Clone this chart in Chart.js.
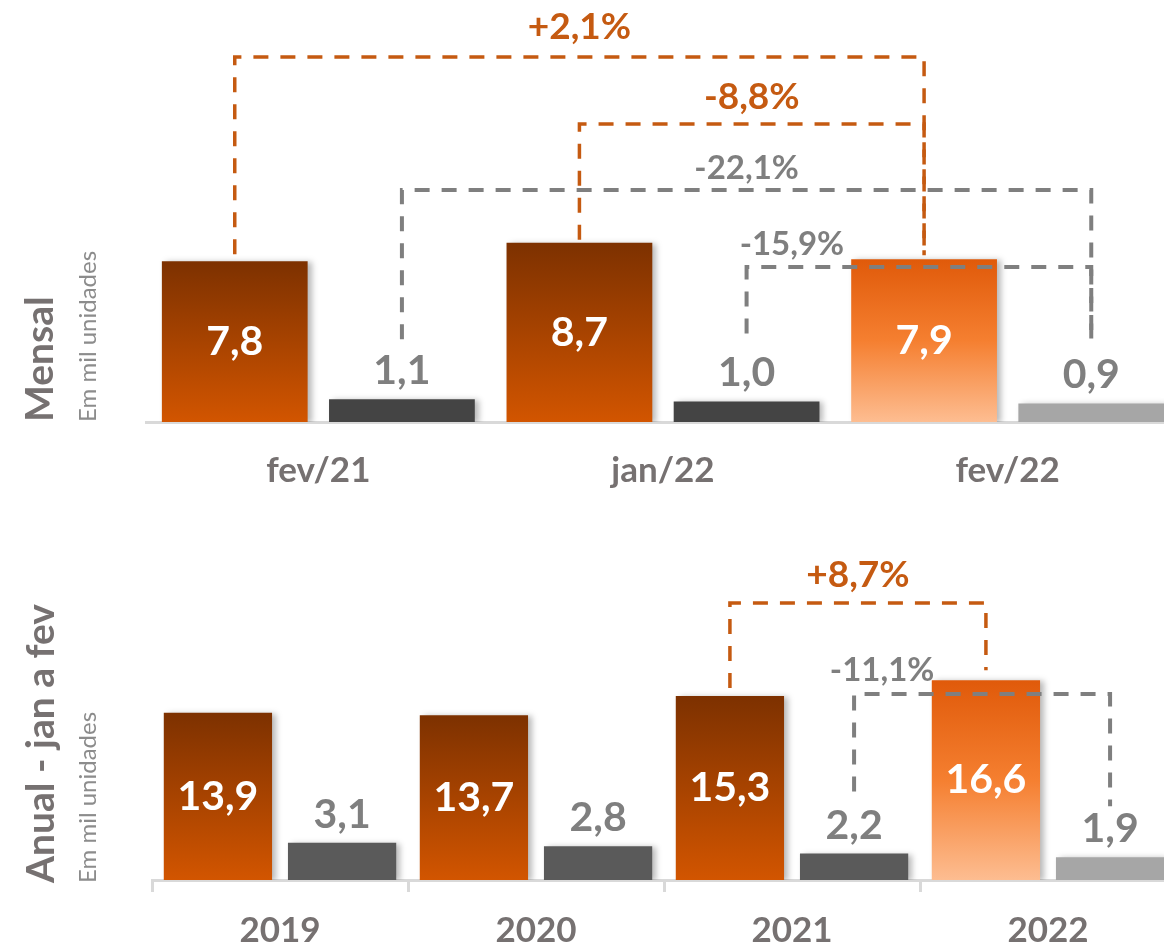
<!DOCTYPE html>
<html>
<head>
<meta charset="utf-8">
<script src="https://cdn.jsdelivr.net/npm/chart.js@4.4.1/dist/chart.umd.min.js"></script>
<style>
  html, body { margin: 0; padding: 0; background: #fff; }
  #wrap { position: relative; width: 1164px; height: 943px; overflow: hidden; font-family: Lato, "Open Sans", sans-serif; }
  canvas { position: absolute; left: 0; }
  #mensal { top: 0; }
  #anual { top: 510px; }
  .side { position: absolute; white-space: nowrap; transform: rotate(-90deg); transform-origin: 0 0; line-height: 1; color: #767171; }
  .title { font-weight: bold; font-size: 39px; }
  .unit { font-size: 24px; color: #8c8c8c; }
</style>
</head>
<body>
<div id="wrap">
  <canvas id="mensal" width="1180" height="500"></canvas>
  <canvas id="anual" width="1176" height="433"></canvas>
  <div class="side title" style="left:19px; top:422px">Mensal</div>
  <div class="side unit" style="left:75px; top:422px">Em mil unidades</div>
  <div class="side title" style="left:20px; top:883px">Anual - jan a fev</div>
  <div class="side unit" style="left:75px; top:883px">Em mil unidades</div>
</div>
<script>
// mensal
const mensalLabels = ['fev/21', 'jan/22', 'fev/22'];
const mensalSerie1 = [7.8, 8.7, 7.9];
const mensalSerie2 = [1.1, 1.0, 0.9];

// anual - jan a fev
const anualLabels = ['2019', '2020', '2021', '2022'];
const anualSerie1 = [13.9, 13.7, 15.3, 16.6];
const anualSerie2 = [3.1, 2.8, 2.2, 1.9];

// variation brackets: [dataset, index] -> [dataset, index], level in axis units
const mensalBrackets = [
  { text: '+2,1%', from: [0, 0], to: [0, 2], level: 17.72, kind: 'orange', gap: [7, 4], dx: 0, rise: 30 },
  { text: '-8,8%', from: [0, 1], to: [0, 2], level: 14.47, kind: 'orange', gap: [3, 4], dx: 0, rise: 27 },
  { text: '-22,1%', from: [1, 0], to: [1, 2], level: 11.26, kind: 'gray', gap: [60, 65], dx: 0, rise: 22 },
  { text: '-15,9%', from: [1, 1], to: [1, 2], level: 7.52, kind: 'gray', gap: [68, 65], dx: -127, rise: 23 }
];
const anualBrackets = [
  { text: '+8,7%', from: [0, 2], to: [0, 3], level: 23.03, kind: 'orange', gap: [8, 10], dx: 0, rise: 28 },
  { text: '-11,1%', from: [1, 2], to: [1, 3], level: 15.46, kind: 'gray', gap: [62, 51], dx: -100, rise: 24 }
];

const FONT = 'Lato, "Open Sans", sans-serif';
const ORANGE = '#c55a11';
const GRAY_TXT = '#7f7f7f';
const lineStyle = {
  orange: { color: ORANGE, width: 3.5, dash: [15, 12], font: 'bold 37px ' + FONT },
  gray: { color: GRAY_TXT, width: 4, dash: [15, 12], font: 'bold 33px ' + FONT }
};

const darkOrange = [[0, '#7d3100'], [1, '#d25500']];
const lightOrange = [[0, '#e05a0a'], [0.5, '#f57f30'], [1, '#fdbd91']];

function gradient(stops) {
  return (c) => {
    const chart = c.chart;
    if (!chart.chartArea || !c.parsed) return stops[stops.length - 1][1];
    const y = chart.scales.y;
    const top = y.getPixelForValue(c.parsed.y);
    const bottom = y.getPixelForValue(0);
    const g = chart.ctx.createLinearGradient(0, top, 0, bottom);
    stops.forEach(([o, col]) => g.addColorStop(o, col));
    return g;
  };
}

const fmt = v => v.toFixed(1).replace('.', ',');

const barShadow = {
  id: 'barShadow',
  beforeDatasetsDraw(chart) {
    const ctx = chart.ctx;
    ctx.save();
    ctx.shadowColor = 'rgba(0,0,0,0.28)';
    ctx.shadowBlur = 6;
    ctx.shadowOffsetX = 4;
    ctx.shadowOffsetY = 1;
  },
  afterDatasetsDraw(chart) {
    chart.ctx.restore();
  }
};

const extras = {
  id: 'extras',
  afterDraw(chart, args, opts) {
    const ctx = chart.ctx;
    const y = chart.scales.y;
    // brackets
    opts.brackets.forEach(b => {
      const st = lineStyle[b.kind];
      const a = chart.getDatasetMeta(b.from[0]).data[b.from[1]];
      const z = chart.getDatasetMeta(b.to[0]).data[b.to[1]];
      const ly = y.getPixelForValue(b.level);
      ctx.save();
      ctx.strokeStyle = st.color;
      ctx.lineWidth = st.width;
      ctx.setLineDash(st.dash);
      ctx.beginPath();
      ctx.moveTo(a.x, a.y - b.gap[0]);
      ctx.lineTo(a.x, ly);
      ctx.lineTo(z.x, ly);
      ctx.lineTo(z.x, z.y - b.gap[1]);
      ctx.stroke();
      ctx.setLineDash([]);
      ctx.fillStyle = st.color;
      ctx.font = st.font;
      ctx.textAlign = 'center';
      ctx.textBaseline = 'middle';
      ctx.fillText(b.text, (a.x + z.x) / 2 + b.dx, ly - b.rise);
      ctx.restore();
    });
    // value labels
    ctx.save();
    ctx.font = 'bold 41px ' + FONT;
    ctx.textAlign = 'center';
    chart.data.datasets.forEach((ds, di) => {
      chart.getDatasetMeta(di).data.forEach((el, i) => {
        const txt = fmt(ds.data[i]);
        if (di === 0) {
          ctx.fillStyle = '#ffffff';
          ctx.textBaseline = 'middle';
          ctx.fillText(txt, el.x, (el.y + el.base) / 2);
        } else {
          ctx.fillStyle = GRAY_TXT;
          ctx.textBaseline = 'alphabetic';
          ctx.fillText(txt, el.x, el.y - 15);
        }
      });
    });
    ctx.restore();
  }
};

function makeChart(id, labels, s1, s2, grayDark, yMax, padLeft, axisHeight, brackets, ticks, tickPad) {
  const last = labels.length - 1;
  const dark = gradient(darkOrange);
  const light = gradient(lightOrange);
  return new Chart(document.getElementById(id), {
    type: 'bar',
    data: {
      labels: labels,
      datasets: [
        {
          label: 'Série 1',
          data: s1,
          backgroundColor: c => (c.dataIndex === last ? light(c) : dark(c))
        },
        {
          label: 'Série 2',
          data: s2,
          backgroundColor: c => (c.dataIndex === last ? '#a6a6a6' : grayDark)
        }
      ]
    },
    options: {
      responsive: false,
      animation: false,
      devicePixelRatio: 1,
      categoryPercentage: 0.97,
      barPercentage: 0.872,
      layout: { padding: { left: padLeft, right: 0, top: 0, bottom: 0 } },
      plugins: {
        legend: { display: false },
        tooltip: { enabled: false },
        extras: { brackets: brackets }
      },
      scales: {
        y: { display: false, min: 0, max: yMax },
        x: {
          afterFit(scale) { scale.height = axisHeight; },
          border: { display: true, color: '#d9d9d9', width: 3 },
          grid: {
            display: ticks,
            drawOnChartArea: false,
            drawTicks: ticks,
            tickLength: 12,
            color: '#d9d9d9',
            lineWidth: 3
          },
          ticks: {
            padding: tickPad,
            color: '#767171',
            font: { family: FONT, weight: 'bold', size: 35 }
          }
        }
      }
    },
    plugins: [barShadow, extras]
  });
}

makeChart('mensal', mensalLabels, mensalSerie1, mensalSerie2, '#444444', 422 / 20.6, 146, 78, mensalBrackets, false, 28);
makeChart('anual', anualLabels, anualSerie1, anualSerie2, '#5a5a5a', 370 / 12.03, 152, 63, anualBrackets, true, 18);
</script>
</body>
</html>
